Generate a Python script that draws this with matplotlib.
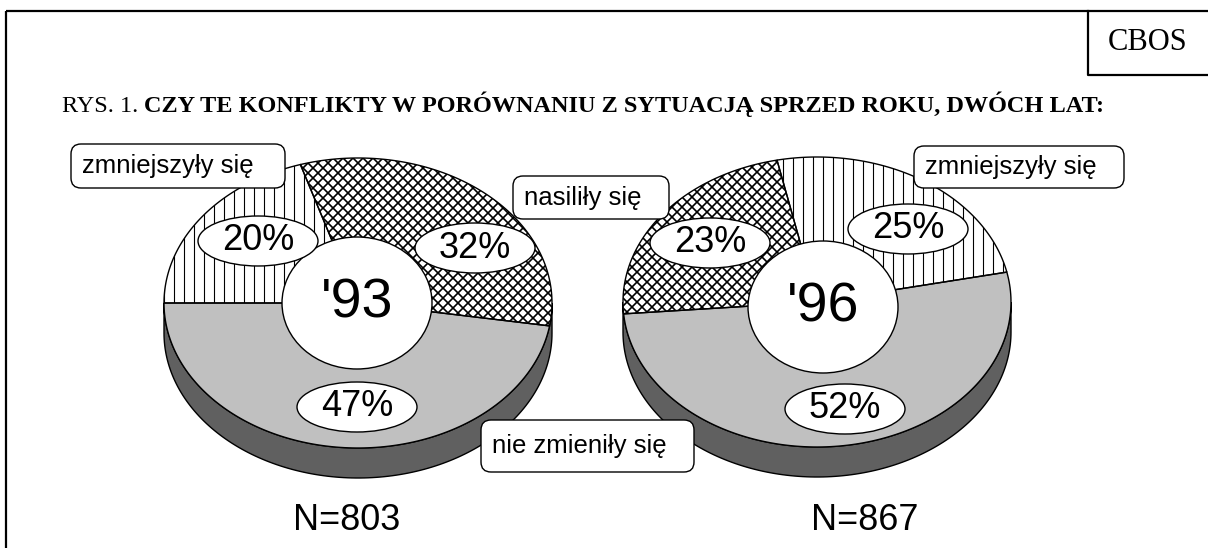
import numpy as np
import matplotlib
matplotlib.use('Agg')
import matplotlib.pyplot as plt
from matplotlib.patches import Polygon, Ellipse, FancyBboxPatch
from matplotlib.collections import LineCollection

plt.rcParams['font.family'] = ['Liberation Sans', 'DejaVu Sans']

# dane
categories = ['zmniejszyły się', 'nasiliły się', 'nie zmieniły się']
years = ["'93", "'96"]
values_93 = [20, 32, 47]
values_96 = [25, 23, 52]
sample_n = [803, 867]
title_prefix = 'RYS. 1. '
title_text = 'CZY TE KONFLIKTY W PORÓWNANIU Z SYTUACJĄ SPRZED ROKU, DWÓCH LAT:'

# uklad (piksele)
pie_centers = [(358, 303), (817, 302)]
pie_a, pie_b, depth = 194, 145, 30
start_angle = [180, 11.9]
direction = [-1, 1]
hole_centers = [(357, 303), (823, 307)]
hole_a, hole_b = 75, 66
pct_pos = [[(258, 241), (475, 248), (357, 407)],
           [(908, 229), (710, 243), (845, 409)]]
n_pos = [(347, 520), (865, 520)]
# (kategoria, x, y, szer, wys)
label_boxes = [(0, 71, 144, 214, 44), (1, 513, 176, 156, 43),
               (0, 914, 146, 210, 42), (2, 481, 420, 213, 52)]
fills = ['white', 'white', '#c0c0c0']
hatches = ['vert', 'cross', None]

fig = plt.figure(figsize=(12.08, 5.48), dpi=100)
ax = fig.add_axes([0, 0, 1, 1])
ax.set_xlim(0, 1208)
ax.set_ylim(548, 0)
ax.axis('off')


def arc(cx, cy, t1, t2, n=150):
    t = np.radians(np.linspace(t1, t2, n))
    return np.column_stack([cx + pie_a * np.cos(t), cy - pie_b * np.sin(t)])


for i, vals in enumerate([values_93, values_96]):
    cx, cy = pie_centers[i]
    top = arc(cx, cy, 180, 360)
    side = np.vstack([top, top[::-1] + [0, depth]])
    ax.add_patch(Polygon(side, closed=True, fc='#606060', ec='black', lw=1, zorder=1))

    tot = sum(vals)
    ang = start_angle[i]
    for k, v in enumerate(vals):
        sweep = direction[i] * v / tot * 360
        pts = np.vstack([[cx, cy], arc(cx, cy, ang, ang + sweep)])
        wedge = Polygon(pts, closed=True, fc=fills[k], ec='none', zorder=2)
        ax.add_patch(wedge)
        segs = []
        if hatches[k] == 'vert':
            for x in np.arange(cx - pie_a, cx + pie_a, 10):
                segs.append([(x, cy - pie_b - 5), (x, cy + pie_b + 5)])
            lw = 0.8
        elif hatches[k] == 'cross':
            for o in np.arange(-420, 420, 10):
                segs.append([(cx + o - 200, cy - 200), (cx + o + 200, cy + 200)])
                segs.append([(cx + o + 200, cy - 200), (cx + o - 200, cy + 200)])
            lw = 1.2
        if segs:
            lc = LineCollection(segs, colors='black', linewidths=lw, zorder=3)
            lc.set_clip_path(wedge)
            ax.add_collection(lc)
        ax.add_patch(Polygon(pts, closed=True, fill=False, ec='black', lw=1, zorder=4))
        px, py = pct_pos[i][k]
        ax.add_patch(Ellipse((px, py), 120, 50, fc='white', ec='black', lw=1, zorder=6))
        ax.text(px, py, f'{v}%', fontsize=26, ha='center', va='center', zorder=8)
        ang += sweep

    hx, hy = hole_centers[i]
    ax.add_patch(Ellipse((hx, hy), 2 * hole_a, 2 * hole_b, fc='white', ec='black', lw=1, zorder=5))
    ax.text(hx, hy, years[i], fontsize=40, ha='center', va='center', zorder=8)
    ax.text(n_pos[i][0], n_pos[i][1], f'N={sample_n[i]}', fontsize=26,
            ha='center', va='center', zorder=8)

for k, x, y, w, h in label_boxes:
    ax.add_patch(FancyBboxPatch((x, y), w, h, boxstyle='round,pad=0,rounding_size=10',
                                fc='white', ec='black', lw=1, zorder=7))
    ax.text(x + 11, y + h / 2, categories[k], fontsize=18.5, ha='left', va='center', zorder=8)

# ramka i CBOS
ax.plot([6, 1208], [11, 11], color='black', lw=1.6, solid_capstyle='butt')
ax.plot([6, 6], [11, 548], color='black', lw=1.6, solid_capstyle='butt')
ax.plot([1088, 1088, 1208], [11, 75, 75], color='black', lw=1.6)
ax.text(1148, 43, 'CBOS', fontsize=22, family='Liberation Serif', ha='center', va='center')

t1 = ax.text(62, 112, title_prefix, fontsize=17.5, family='Liberation Serif', va='baseline')
fig.canvas.draw()
bb = t1.get_window_extent().transformed(ax.transData.inverted())
ax.text(bb.x1, 112, title_text, fontsize=17.5, family='Liberation Serif',
        fontweight='bold', va='baseline')

fig.savefig('out.png', dpi=100)
